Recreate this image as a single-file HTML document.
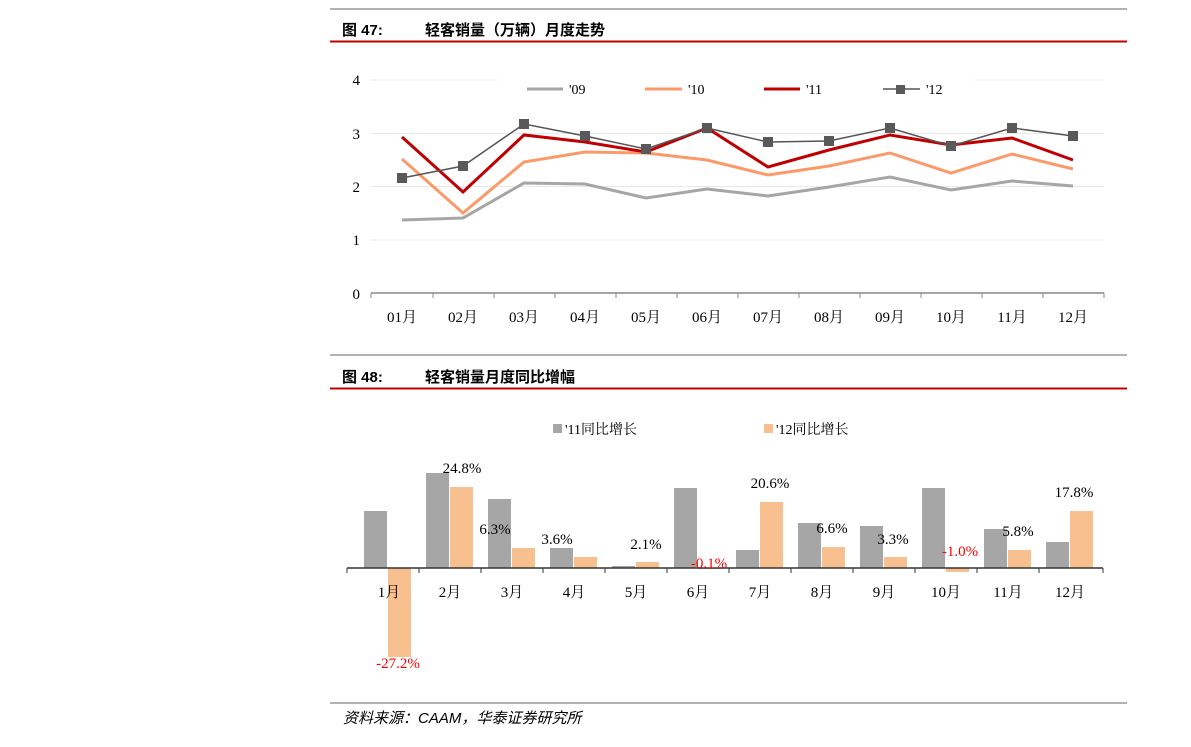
<!DOCTYPE html>
<html><head><meta charset="utf-8"><style>
html,body{margin:0;padding:0;background:#fff;}
svg{display:block;}
text{font-family:"Liberation Serif","Noto Serif CJK SC",serif;}
.t{font-family:"Liberation Sans","Noto Sans CJK SC",sans-serif;font-weight:bold;font-size:15px;fill:#000;}
</style></head><body>
<svg width="1191" height="747" viewBox="0 0 1191 747" xmlns="http://www.w3.org/2000/svg">
<!-- Header 1 -->
<line x1="330" y1="9" x2="1127" y2="9" stroke="#999" stroke-width="1.5"/>
<text x="342" y="35" class="t">图 47:</text>
<text x="425" y="35" class="t">轻客销量（万辆）月度走势</text>
<line x1="330" y1="41.5" x2="1127" y2="41.5" stroke="#c00000" stroke-width="2"/>

<!-- Chart 1 grid -->
<g stroke="#e8e8e8" stroke-width="1">
<line x1="371" y1="80" x2="497" y2="80"/><line x1="975" y1="80" x2="1104" y2="80"/>
<line x1="371" y1="133.5" x2="1104" y2="133.5"/>
<line x1="371" y1="186.5" x2="1104" y2="186.5"/>
<line x1="371" y1="240" x2="1104" y2="240"/>
</g>
<g font-size="15" fill="#000" text-anchor="end">
<text x="360" y="85">4</text><text x="360" y="139">3</text><text x="360" y="192">2</text><text x="360" y="245">1</text><text x="360" y="299">0</text>
</g>
<line x1="371" y1="293" x2="1104" y2="293" stroke="#888" stroke-width="1.5"/>
<g stroke="#888" stroke-width="1">
<line x1="371" y1="293" x2="371" y2="298"/><line x1="433" y1="293" x2="433" y2="298"/><line x1="494" y1="293" x2="494" y2="298"/><line x1="555" y1="293" x2="555" y2="298"/><line x1="616" y1="293" x2="616" y2="298"/><line x1="677" y1="293" x2="677" y2="298"/><line x1="738" y1="293" x2="738" y2="298"/><line x1="799" y1="293" x2="799" y2="298"/><line x1="860" y1="293" x2="860" y2="298"/><line x1="921" y1="293" x2="921" y2="298"/><line x1="982" y1="293" x2="982" y2="298"/><line x1="1043" y1="293" x2="1043" y2="298"/><line x1="1104" y1="293" x2="1104" y2="298"/>
</g>
<g font-size="15" fill="#000" text-anchor="middle">
<text x="402" y="322">01月</text><text x="463" y="322">02月</text><text x="524" y="322">03月</text><text x="585" y="322">04月</text><text x="646" y="322">05月</text><text x="707" y="322">06月</text><text x="768" y="322">07月</text><text x="829" y="322">08月</text><text x="890" y="322">09月</text><text x="951" y="322">10月</text><text x="1012" y="322">11月</text><text x="1073" y="322">12月</text>
</g>
<polyline fill="none" stroke="#a6a6a6" stroke-width="3" points="402,220 463,218 524,183 585,184 646,198 707,189 768,196 829,187 890,177 951,190 1012,181 1073,186"/>
<polyline fill="none" stroke="#fa9a6a" stroke-width="3" points="402,159 463,213 524,162 585,152 646,153 707,160 768,175 829,166 890,153 951,173 1012,154 1073,169"/>
<polyline fill="none" stroke="#c00000" stroke-width="3" points="402,137 463,192 524,135 585,142 646,152 707,128 768,167 829,150 890,135 951,145 1012,138 1073,160"/>
<polyline fill="none" stroke="#555" stroke-width="1.5" points="402,178 463,166 524,124 585,136 646,149 707,128 768,142 829,141 890,128 951,146 1012,128 1073,136"/>
<g fill="#595959">
<rect x="397" y="173" width="10" height="10"/><rect x="458" y="161" width="10" height="10"/><rect x="519" y="119" width="10" height="10"/><rect x="580" y="131" width="10" height="10"/><rect x="641" y="144" width="10" height="10"/><rect x="702" y="123" width="10" height="10"/><rect x="763" y="137" width="10" height="10"/><rect x="824" y="136" width="10" height="10"/><rect x="885" y="123" width="10" height="10"/><rect x="946" y="141" width="10" height="10"/><rect x="1007" y="123" width="10" height="10"/><rect x="1068" y="131" width="10" height="10"/>
</g>
<!-- legend 1 -->
<line x1="527" y1="89" x2="563" y2="89" stroke="#a6a6a6" stroke-width="3"/><text x="569" y="94" font-size="14">'09</text>
<line x1="645" y1="89" x2="682" y2="89" stroke="#fa9a6a" stroke-width="3"/><text x="688" y="94" font-size="14">'10</text>
<line x1="764" y1="89" x2="800" y2="89" stroke="#c00000" stroke-width="3"/><text x="806" y="94" font-size="14">'11</text>
<line x1="883" y1="89" x2="920" y2="89" stroke="#555" stroke-width="1.5"/><rect x="896" y="85" width="9" height="9" fill="#595959"/><text x="926" y="94" font-size="14">'12</text>

<!-- Header 2 -->
<line x1="330" y1="355" x2="1127" y2="355" stroke="#999" stroke-width="1.5"/>
<text x="342" y="382" class="t">图 48:</text>
<text x="425" y="382" class="t">轻客销量月度同比增幅</text>
<line x1="330" y1="388.5" x2="1127" y2="388.5" stroke="#c00000" stroke-width="2"/>

<!-- legend 2 -->
<rect x="553" y="424" width="9" height="9" fill="#a6a6a6"/><text x="565" y="434" font-size="14">'11同比增长</text>
<rect x="764" y="424" width="9" height="9" fill="#f8c08e"/><text x="776" y="434" font-size="14">'12同比增长</text>

<!-- bars -->
<g fill="#a6a6a6">
<rect x="364" y="511" width="23" height="57"/><rect x="426" y="473" width="23" height="95"/><rect x="488" y="499" width="23" height="69"/><rect x="550" y="548" width="23" height="20"/><rect x="612" y="566" width="23" height="2"/><rect x="674" y="488" width="23" height="80"/><rect x="736" y="550" width="23" height="18"/><rect x="798" y="523" width="23" height="45"/><rect x="860" y="526" width="23" height="42"/><rect x="922" y="488" width="23" height="80"/><rect x="984" y="529" width="23" height="39"/><rect x="1046" y="542" width="23" height="26"/>
</g>
<g fill="#f8c08e">
<rect x="388" y="568" width="23" height="89"/><rect x="450" y="487" width="23" height="81"/><rect x="512" y="548" width="23" height="20"/><rect x="574" y="557" width="23" height="11"/><rect x="636" y="562" width="23" height="6"/><rect x="698" y="568" width="23" height="1"/><rect x="760" y="502" width="23" height="66"/><rect x="822" y="547" width="23" height="21"/><rect x="884" y="557" width="23" height="11"/><rect x="946" y="568" width="23" height="4"/><rect x="1008" y="550" width="23" height="18"/><rect x="1070" y="511" width="23" height="57"/>
</g>
<line x1="347" y1="568" x2="1103" y2="568" stroke="#333" stroke-width="1.5"/>
<g stroke="#333" stroke-width="1">
<line x1="347" y1="568" x2="347" y2="573"/><line x1="419" y1="568" x2="419" y2="573"/><line x1="481" y1="568" x2="481" y2="573"/><line x1="543" y1="568" x2="543" y2="573"/><line x1="605" y1="568" x2="605" y2="573"/><line x1="667" y1="568" x2="667" y2="573"/><line x1="729" y1="568" x2="729" y2="573"/><line x1="791" y1="568" x2="791" y2="573"/><line x1="853" y1="568" x2="853" y2="573"/><line x1="915" y1="568" x2="915" y2="573"/><line x1="977" y1="568" x2="977" y2="573"/><line x1="1039" y1="568" x2="1039" y2="573"/><line x1="1103" y1="568" x2="1103" y2="573"/>
</g>
<g font-size="15" fill="#000" text-anchor="middle">
<text x="389" y="597">1月</text><text x="450" y="597">2月</text><text x="512" y="597">3月</text><text x="574" y="597">4月</text><text x="636" y="597">5月</text><text x="698" y="597">6月</text><text x="760" y="597">7月</text><text x="822" y="597">8月</text><text x="884" y="597">9月</text><text x="946" y="597">10月</text><text x="1008" y="597">11月</text><text x="1070" y="597">12月</text>
</g>
<g font-size="15" fill="#000" text-anchor="middle">
<text x="462" y="473">24.8%</text><text x="495" y="534">6.3%</text><text x="557" y="544">3.6%</text><text x="646" y="549">2.1%</text><text x="770" y="488">20.6%</text><text x="832" y="533">6.6%</text><text x="893" y="544">3.3%</text><text x="1018" y="536">5.8%</text><text x="1074" y="497">17.8%</text>
</g>
<g font-size="15" fill="#ff0000" text-anchor="middle">
<text x="709" y="568">-0.1%</text><text x="960" y="556">-1.0%</text><text x="398" y="668">-27.2%</text>
</g>

<!-- footer -->
<line x1="330" y1="703" x2="1127" y2="703" stroke="#999" stroke-width="1.5"/>
<text x="343" y="723" font-size="15" font-style="italic" style="font-family:'Liberation Sans','Noto Sans CJK SC',sans-serif">资料来源：CAAM，华泰证券研究所</text>
</svg>
</body></html>
